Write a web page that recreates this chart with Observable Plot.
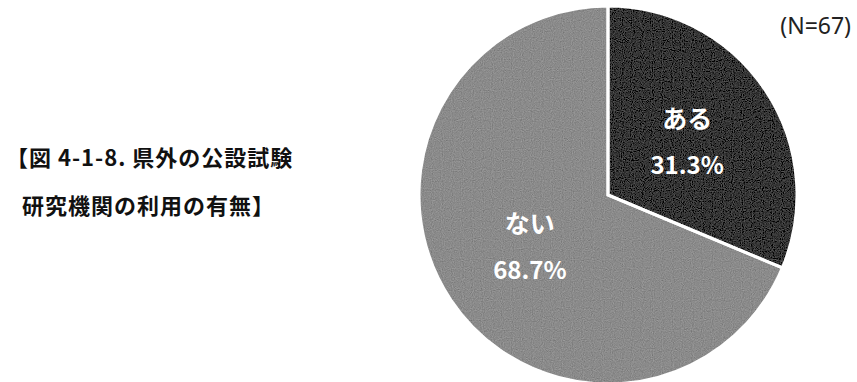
<!DOCTYPE html>
<html>
<head>
<meta charset="utf-8">
<script src="https://cdn.jsdelivr.net/npm/d3@7"></script>
<script src="https://cdn.jsdelivr.net/npm/@observablehq/plot@0.6"></script>
<style>
  html, body { margin: 0; padding: 0; background: #fff; }
  #wrap { position: relative; width: 857px; height: 382px; overflow: hidden; font-family: "Noto Sans CJK JP", "Noto Sans", sans-serif; }
  #title { position: absolute; left: 6px; top: 132px; font-size: 22px; font-weight: bold; line-height: 48px; color: #111; letter-spacing: 1px; }
  #title div:nth-child(2) { padding-left: 16px; }
  #note { position: absolute; right: 6px; top: 9px; font-size: 23px; color: #222; font-family: "Noto Sans", sans-serif; }
  #chart { position: absolute; left: 0; top: 0; }
</style>
</head>
<body>
<div id="wrap">
  <div id="chart"></div>
  <div id="title"></div>
  <div id="note"></div>
</div>
<script>
const categories = ["ある", "ない"];
const percents = [31.3, 68.7];
const sliceColors = ["#363636", "#8b8b8b"];
const titleLines = ["【図 4-1-8. 県外の公設試験", "研究機関の利用の有無】"];
const noteText = "(N=67)";

const data = categories.map((c, i) => ({category: c, value: percents[i]}));
const arcs = d3.pie().sort(null).value(d => d.value)(data);
const unitArc = d3.arc().innerRadius(0).outerRadius(1);
const labels = arcs.map(a => {
  const [lx, ly] = unitArc.centroid(a);
  return {category: a.data.category, pct: a.data.value.toFixed(1) + "%", x: lx, y: ly};
});

function pieMark(index, scales) {
  const x = scales.x, y = scales.y;
  const cx = x(0), cy = y(0), r = x(1) - x(0);
  const root = d3.create("svg:g");
  const f = root.append("defs").append("filter").attr("id", "grain")
    .attr("x", 0).attr("y", 0).attr("width", 1).attr("height", 1);
  f.append("feTurbulence").attr("type", "fractalNoise").attr("baseFrequency", 0.9)
    .attr("numOctaves", 1).attr("seed", 3).attr("result", "noise");
  f.append("feColorMatrix").attr("in", "noise").attr("type", "matrix")
    .attr("values", "0.33 0.33 0.33 0 0  0.33 0.33 0.33 0 0  0.33 0.33 0.33 0 0  0 0 0 0 1")
    .attr("result", "gray");
  f.append("feComposite").attr("in", "SourceGraphic").attr("in2", "gray")
    .attr("operator", "arithmetic").attr("k1", 0).attr("k2", 1).attr("k3", 0.4).attr("k4", -0.2)
    .attr("result", "mix");
  f.append("feComposite").attr("in", "mix").attr("in2", "SourceGraphic").attr("operator", "in");
  const g = root.append("g").attr("transform", `translate(${cx},${cy})`);
  const arc = d3.arc().innerRadius(0).outerRadius(r);
  g.selectAll("path").data(arcs).join("path")
    .attr("d", arc)
    .attr("fill", (d, i) => sliceColors[i])
    .attr("filter", "url(#grain)");
  g.selectAll("path.sep").data(arcs).join("path")
    .attr("class", "sep")
    .attr("d", arc)
    .attr("fill", "none")
    .attr("stroke", "#fff")
    .attr("stroke-width", 3)
    .attr("stroke-linejoin", "miter");
  return root.node();
}

const cx = 608, cy = 195, R = 189;
const chart = Plot.plot({
  width: 857,
  height: 382,
  margin: 0,
  x: {domain: [-1, 1], range: [cx - R, cx + R], axis: null},
  y: {domain: [-1, 1], range: [cy - R, cy + R], axis: null},
  style: {background: "transparent", fontFamily: "'Noto Sans CJK JP', sans-serif"},
  marks: [
    pieMark,
    Plot.text(labels, {x: "x", y: "y", text: "category", dy: -23, fill: "#fff", fontSize: 25, fontWeight: "bold"}),
    Plot.text(labels, {x: "x", y: "y", text: "pct", dy: 23, fill: "#fff", fontSize: 24, fontWeight: "bold"})
  ]
});
document.getElementById("chart").append(chart);
document.getElementById("title").innerHTML = titleLines.map(t => `<div>${t}</div>`).join("");
document.getElementById("note").textContent = noteText;
</script>
</body>
</html>
